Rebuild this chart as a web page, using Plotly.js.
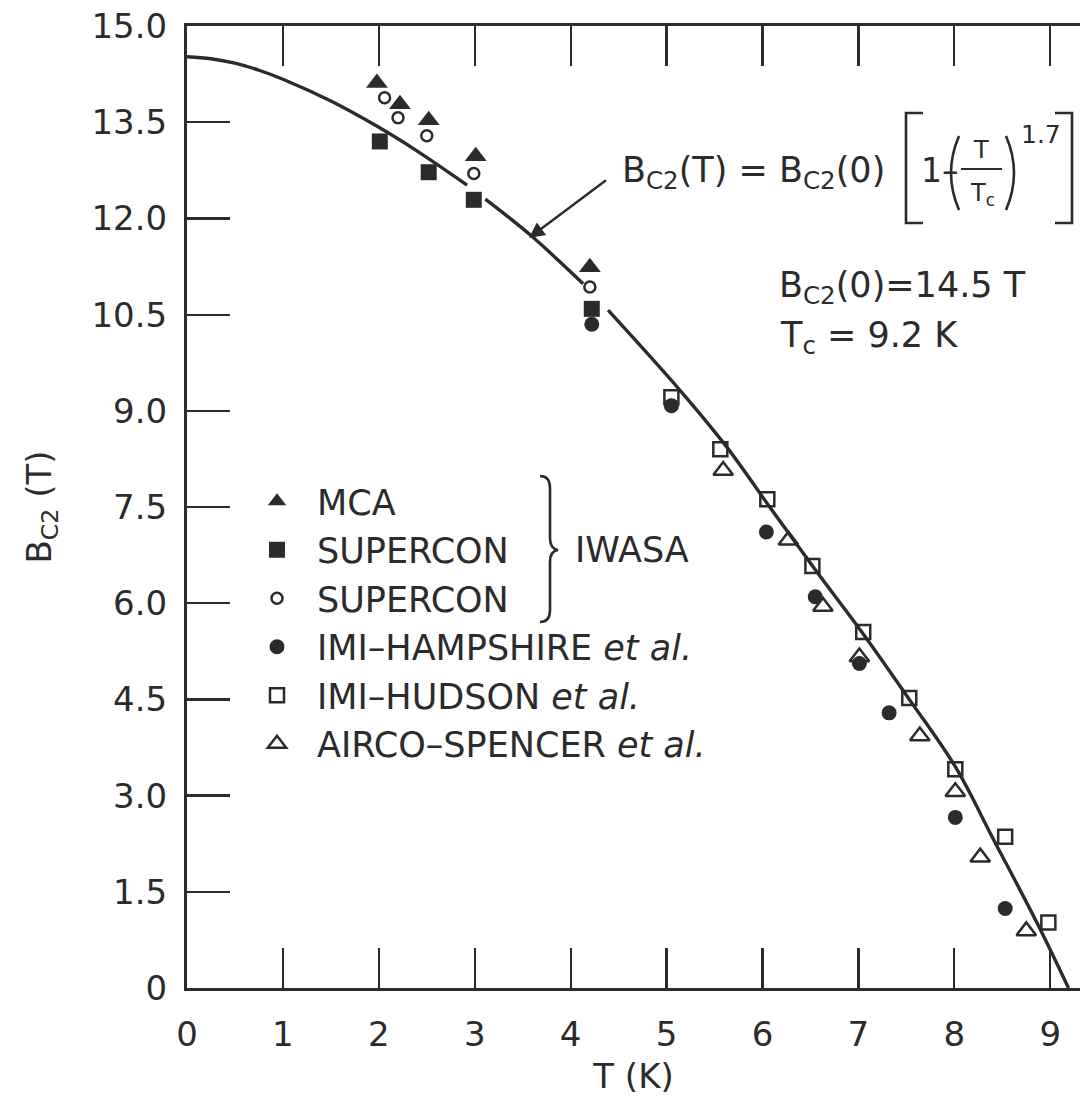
<!DOCTYPE html>
<html><head><meta charset="utf-8">
<script src="https://cdn.plot.ly/plotly-3.0.1.min.js"></script>
<style>html,body{margin:0;padding:0;background:#fff;overflow:hidden}#chart{width:1080px;height:1101px}</style>
</head><body><div id="chart"></div>
<script>
// ---- data ----
const curveT = [0, 0.25, 0.5, 0.75, 1.0, 1.5, 2.0, 2.4, 2.92, null, 3.11, 3.58, 4.13, null, 4.39, 5.14, 5.63, 6.08, 6.55, 7.05, 7.53, 8.01, 8.40, 8.86, 9.19];
const curveB = [14.52, 14.49, 14.42, 14.31, 14.17, 13.83, 13.42, 13.05, 12.52, null, 12.30, 11.74, 10.98, null, 10.57, 9.32, 8.43, 7.49, 6.52, 5.52, 4.50, 3.45, 2.34, 1.02, 0];

const mcaT = [1.98, 2.22, 2.52, 3.01, 4.20];
const mcaB = [14.11, 13.78, 13.53, 12.97, 11.24];

const superconSqT = [2.01, 2.52, 2.99, 4.22];
const superconSqB = [13.20, 12.72, 12.29, 10.59];

const superconCircT = [2.06, 2.20, 2.50, 2.99, 4.20];
const superconCircB = [13.88, 13.57, 13.29, 12.70, 10.93];

const hampshireT = [4.22, 5.05, 6.04, 6.55, 7.01, 7.32, 8.01, 8.53];
const hampshireB = [10.35, 9.08, 7.11, 6.10, 5.06, 4.29, 2.66, 1.24];

const hudsonT = [5.05, 5.56, 6.05, 6.52, 7.05, 7.53, 8.01, 8.53, 8.98];
const hudsonB = [9.21, 8.40, 7.62, 6.58, 5.55, 4.52, 3.41, 2.36, 1.02];

const spencerT = [5.59, 6.27, 6.63, 7.01, 7.64, 8.01, 8.27, 8.75];
const spencerB = [8.07, 6.98, 5.95, 5.16, 3.93, 3.06, 2.04, 0.89];

const seriesNames = ['MCA', 'SUPERCON', 'SUPERCON', 'IMI–HAMPSHIRE <i>et al.</i>', 'IMI–HUDSON <i>et al.</i>', 'AIRCO–SPENCER <i>et al.</i>'];

const xTickVals = [0, 1, 2, 3, 4, 5, 6, 7, 8, 9];
const xTickText = ['0', '1', '2', '3', '4', '5', '6', '7', '8', '9'];
const yTickVals = [0, 1.5, 3, 4.5, 6, 7.5, 9, 10.5, 12, 13.5, 15];
const yTickText = ['0', '1.5', '3.0', '4.5', '6.0', '7.5', '9.0', '10.5', '12.0', '13.5', '15.0'];
const rightTickVals = [1.5, 3, 4.5, 6, 7.5, 9, 10.5];

// ---- geometry helpers (for decorations only) ----
const INK = '#2b2b2b';
const FONT = 'DejaVu Sans, Liberation Sans, sans-serif';
const L = 187, T0 = 26, W = 1080, H = 1101, PB = 988;
const XMAX = 9.31, YMAX = 15;
const PW = W - L, PH = PB - T0;
const dx = p => (p - L) / PW * XMAX;
const dy = p => (PB - p) / PH * YMAX;
const P = (x, y) => dx(x).toFixed(4) + ',' + dy(y).toFixed(4);

function pts(name, xs, ys, symbol, size, filled) {
  return {
    type: 'scatter', mode: 'markers', name: name, x: xs, y: ys,
    marker: {symbol: symbol, size: size, color: INK,
             line: {color: INK, width: filled ? 0 : 2.5}},
    hoverinfo: 'skip'
  };
}

const traces = [
  {type: 'scatter', mode: 'lines', x: curveT, y: curveB, showlegend: false,
   line: {color: INK, width: 3.4, shape: 'spline', smoothing: 1}, connectgaps: false, hoverinfo: 'skip'},
  pts(seriesNames[0], mcaT, mcaB, 'triangle-up', 19, true),
  pts(seriesNames[1], superconSqT, superconSqB, 'square', 16, true),
  pts(seriesNames[2], superconCircT, superconCircB, 'circle-open', 11, false),
  pts(seriesNames[3], hampshireT, hampshireB, 'circle', 15, true),
  pts(seriesNames[4], hudsonT, hudsonB, 'square-open', 14, false),
  pts(seriesNames[5], spencerT, spencerB, 'triangle-up-open', 17, false)
];

const lineStyle = {color: INK, width: 2.6};
const shapes = [
  {type: 'path', xref: 'x', yref: 'y', line: lineStyle,
   path: 'M' + P(923, 113) + 'L' + P(906, 113) + 'L' + P(906, 223) + 'L' + P(923, 223)},
  {type: 'path', xref: 'x', yref: 'y', line: lineStyle,
   path: 'M' + P(1055, 113) + 'L' + P(1072, 113) + 'L' + P(1072, 223) + 'L' + P(1055, 223)},
  {type: 'path', xref: 'x', yref: 'y', line: lineStyle,
   path: 'M' + P(959, 136) + 'Q' + P(943, 173) + ' ' + P(959, 210)},
  {type: 'path', xref: 'x', yref: 'y', line: lineStyle,
   path: 'M' + P(1006, 136) + 'Q' + P(1022, 173) + ' ' + P(1006, 210)},
  {type: 'path', xref: 'x', yref: 'y', line: {color: INK, width: 2.2},
   path: 'M' + P(961, 169) + 'L' + P(1002, 169)},
  {type: 'path', xref: 'x', yref: 'y', line: {color: INK, width: 2.6},
   path: 'M' + P(540, 476) + 'Q' + P(550, 476) + ' ' + P(550, 488) + 'L' + P(550, 538) +
         'Q' + P(550, 549) + ' ' + P(558, 550) + 'Q' + P(550, 551) + ' ' + P(550, 562) +
         'L' + P(550, 610) + 'Q' + P(550, 622) + ' ' + P(540, 622)}
];

const f = (s) => ({family: FONT, size: s, color: INK});
const annotations = [
  {xref: 'x', yref: 'y', x: dx(620), y: dy(172), xanchor: 'left', yanchor: 'middle', showarrow: false,
   text: 'B<sub>C2</sub>(T) = B<sub>C2</sub>(0)', font: f(35)},
  {xref: 'x', yref: 'y', x: dx(919), y: dy(170), xanchor: 'left', yanchor: 'middle', showarrow: false,
   text: '1–', font: f(33)},
  {xref: 'x', yref: 'y', x: dx(981), y: dy(150), xanchor: 'center', yanchor: 'middle', showarrow: false,
   text: 'T', font: f(24)},
  {xref: 'x', yref: 'y', x: dx(982), y: dy(194), xanchor: 'center', yanchor: 'middle', showarrow: false,
   text: 'T<sub>c</sub>', font: f(24)},
  {xref: 'x', yref: 'y', x: dx(1041), y: dy(134), xanchor: 'center', yanchor: 'middle', showarrow: false,
   text: '1.7', font: f(25)},
  {xref: 'x', yref: 'y', x: dx(777), y: dy(287), xanchor: 'left', yanchor: 'middle', showarrow: false,
   text: 'B<sub>C2</sub>(0)=14.5 T', font: f(35)},
  {xref: 'x', yref: 'y', x: dx(778), y: dy(337), xanchor: 'left', yanchor: 'middle', showarrow: false,
   text: 'T<sub>c</sub> = 9.2 K', font: f(35)},
  {xref: 'x', yref: 'y', x: dx(573), y: dy(550), xanchor: 'left', yanchor: 'middle', showarrow: false,
   text: 'IWASA', font: f(35)},
  {xref: 'x', yref: 'y', x: dx(529), y: dy(238), ax: 613 - 529, ay: 175 - 238, axref: 'pixel', ayref: 'pixel',
   showarrow: true, arrowhead: 2, arrowsize: 1.3, arrowwidth: 2.4, arrowcolor: INK, text: ' '}
];

const axisCommon = {showgrid: false, zeroline: false, ticks: 'inside', tickcolor: INK, tickwidth: 2.2,
                    linecolor: INK, linewidth: 3, showline: true, tickfont: f(34)};

const layout = {
  width: W, height: H,
  margin: {l: L, r: 0, t: T0, b: H - PB, pad: 0},
  paper_bgcolor: '#ffffff', plot_bgcolor: '#ffffff',
  font: f(34),
  showlegend: true,
  legend: {x: dx(237) / XMAX, xanchor: 'left', y: dy(472) / YMAX, yanchor: 'top',
           bgcolor: 'rgba(0,0,0,0)', borderwidth: 0, itemwidth: 70, font: f(35), itemclick: false},
  xaxis: Object.assign({}, axisCommon, {range: [0, XMAX], tickmode: 'array', tickvals: xTickVals, ticktext: xTickText,
          ticklen: 40, mirror: 'ticks', ticklabelstandoff: 14,
          title: {text: 'T (K)', font: f(34), standoff: 12}}),
  yaxis: Object.assign({}, axisCommon, {range: [0, YMAX], tickmode: 'array', tickvals: yTickVals, ticktext: yTickText,
          ticklen: 43, mirror: false, ticklabelstandoff: 10,
          title: {text: 'B<sub>C2</sub> (T)', font: f(34), standoff: 30}}),
  yaxis2: {overlaying: 'y', side: 'right', range: [0, YMAX], tickmode: 'array', tickvals: rightTickVals,
           ticks: 'inside', ticklen: 28, tickwidth: 2.2, tickcolor: INK, showticklabels: false,
           showline: false, showgrid: false, zeroline: false},
  shapes: shapes,
  annotations: annotations
};

Plotly.newPlot('chart', traces, layout, {displayModeBar: false, staticPlot: true});
</script></body></html>
